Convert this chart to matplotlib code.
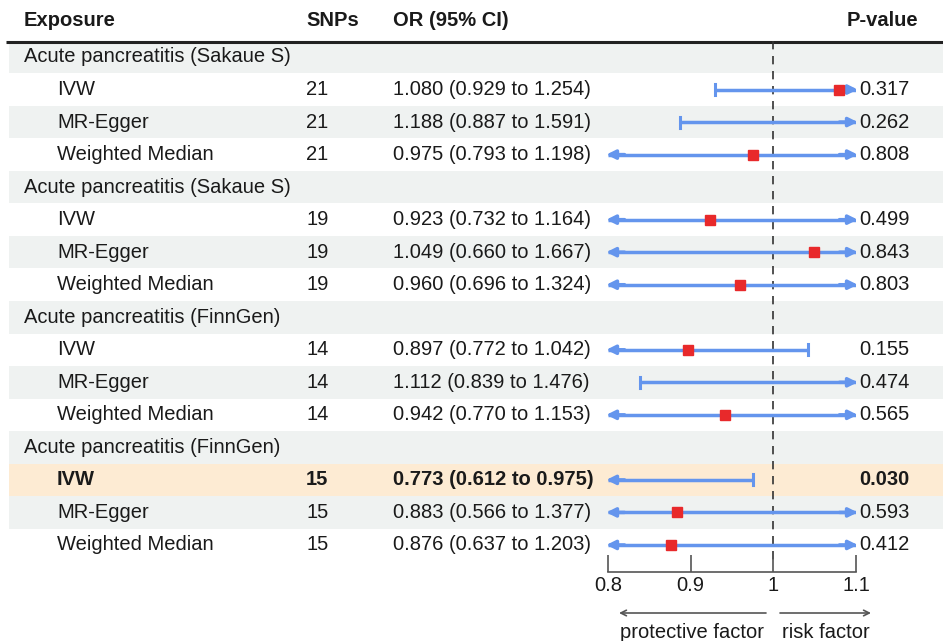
import matplotlib.pyplot as plt

plt.rcParams['font.family'] = ['Liberation Sans', 'DejaVu Sans']

# Table data
labels = ['Acute pancreatitis (Sakaue S)', 'IVW', 'MR-Egger', 'Weighted Median',
          'Acute pancreatitis (Sakaue S)', 'IVW', 'MR-Egger', 'Weighted Median',
          'Acute pancreatitis (FinnGen)', 'IVW', 'MR-Egger', 'Weighted Median',
          'Acute pancreatitis (FinnGen)', 'IVW', 'MR-Egger', 'Weighted Median']
is_group = [True, False, False, False] * 4
snps = ['', '21', '21', '21', '', '19', '19', '19', '', '14', '14', '14', '', '15', '15', '15']
or_val = [None, 1.080, 1.188, 0.975, None, 0.923, 1.049, 0.960,
          None, 0.897, 1.112, 0.942, None, 0.773, 0.883, 0.876]
ci_low = [None, 0.929, 0.887, 0.793, None, 0.732, 0.660, 0.696,
          None, 0.772, 0.839, 0.770, None, 0.612, 0.566, 0.637]
ci_high = [None, 1.254, 1.591, 1.198, None, 1.164, 1.667, 1.324,
           None, 1.042, 1.476, 1.153, None, 0.975, 1.377, 1.203]
pvals = ['', '0.317', '0.262', '0.808', '', '0.499', '0.843', '0.803',
         '', '0.155', '0.474', '0.565', '', '0.030', '0.593', '0.412']
highlight_row = 13

x_ticks = [0.8, 0.9, 1.0, 1.1]
x_tick_labels = ['0.8', '0.9', '1', '1.1']
x_min, x_max = 0.8, 1.1

W, H = 943, 641
fig = plt.figure(figsize=(W / 100, H / 100), dpi=100)
ax = fig.add_axes([0, 0, 1, 1])
ax.set_xlim(0, W)
ax.set_ylim(H, 0)
ax.axis('off')

y0, dy = 57, 32.53
fs = 14.5
txt = '#1a1a1a'
grey_bg = '#eff2f1'
hl_bg = '#fdebd3'

# header
for x, s, ha in [(24, 'Exposure', 'left'), (306, 'SNPs', 'left'),
                 (393, 'OR (95% CI)', 'left'), (918, 'P-value', 'right')]:
    ax.text(x, 21, s, fontsize=fs, fontweight='bold', ha=ha, va='center', color=txt)
ax.plot([6, W], [42, 42], color='#222222', lw=2.2, solid_capstyle='butt')

for i, lab in enumerate(labels):
    yc = y0 + i * dy
    if i == highlight_row:
        ax.fill_between([9, W], yc - dy / 2, yc + dy / 2, color=hl_bg, lw=0, zorder=0)
    elif i % 2 == 0:
        ax.fill_between([9, W], yc - dy / 2, yc + dy / 2, color=grey_bg, lw=0, zorder=0)
    fw = 'bold' if i == highlight_row else 'normal'
    if is_group[i]:
        ax.text(24, yc, lab, fontsize=fs, va='center', color=txt)
        continue
    ax.text(57, yc, lab, fontsize=fs, va='center', color=txt, fontweight=fw)
    ax.text(306, yc, snps[i], fontsize=fs, va='center', color=txt, fontweight=fw)
    ax.text(393, yc, f'{or_val[i]:.3f} ({ci_low[i]:.3f} to {ci_high[i]:.3f})',
            fontsize=fs, va='center', color=txt, fontweight=fw)
    ax.text(859, yc, pvals[i], fontsize=fs, va='center', color=txt, fontweight=fw)

# forest panel
px_l, px_r = 608, 856
ax_top, ax_bot = 40.7, 572
fax = fig.add_axes([px_l / W, 1 - ax_bot / H, (px_r - px_l) / W, (ax_bot - ax_top) / H])
fax.patch.set_alpha(0)
fax.set_xlim(x_min, x_max)
ybot = (ax_bot - y0) / dy
ytop = (ax_top - y0) / dy
fax.set_ylim(ybot, ytop)
for sp in ['top', 'right', 'left']:
    fax.spines[sp].set_visible(False)
fax.spines['bottom'].set_color('#555555')
fax.spines['bottom'].set_linewidth(1.2)
fax.set_yticks([])
fax.set_xticks(x_ticks)
fax.set_xticklabels(x_tick_labels, fontsize=fs, color=txt)
fax.tick_params(axis='x', direction='in', length=12, width=1.2, color='#555555', pad=3)
fax.plot([1, 1], [ytop, 15.5], color='#333333', lw=1.2, ls=(0, (5, 4)), zorder=1)

blue = '#6495ed'
arrow_kw = dict(arrowstyle='-|>', color=blue, lw=2.5, mutation_scale=13, shrinkA=0, shrinkB=0)
for i in range(len(labels)):
    if is_group[i]:
        continue
    lo, hi = ci_low[i], ci_high[i]
    lo_c, hi_c = max(lo, x_min), min(hi, x_max)
    fax.plot([lo_c, hi_c], [i, i], color=blue, lw=2.5, zorder=2, solid_capstyle='butt')
    if lo < x_min:
        fax.annotate('', xy=(x_min - 0.002, i), xytext=(x_min + 0.02, i),
                     arrowprops=arrow_kw, annotation_clip=False, zorder=3)
    else:
        fax.plot([lo, lo], [i - 0.17, i + 0.17], color=blue, lw=2.2, zorder=2)
    if hi > x_max:
        fax.annotate('', xy=(x_max + 0.002, i), xytext=(x_max - 0.02, i),
                     arrowprops=arrow_kw, annotation_clip=False, zorder=3)
    else:
        fax.plot([hi, hi], [i - 0.17, i + 0.17], color=blue, lw=2.2, zorder=2)
    fax.plot(or_val[i], i, marker='s', color='#e8292b', markersize=6.5, zorder=4, lw=0)

# direction arrows
ax.annotate('', xy=(619, 613), xytext=(766, 613),
            arrowprops=dict(arrowstyle='->', color='#555555', lw=1.2, shrinkA=0, shrinkB=0))
ax.annotate('', xy=(871, 613), xytext=(780, 613),
            arrowprops=dict(arrowstyle='->', color='#555555', lw=1.2, shrinkA=0, shrinkB=0))
ax.text(692, 632, 'protective factor', fontsize=fs, ha='center', va='center', color=txt)
ax.text(826, 632, 'risk factor', fontsize=fs, ha='center', va='center', color=txt)

fig.savefig('out.png', dpi=100)
